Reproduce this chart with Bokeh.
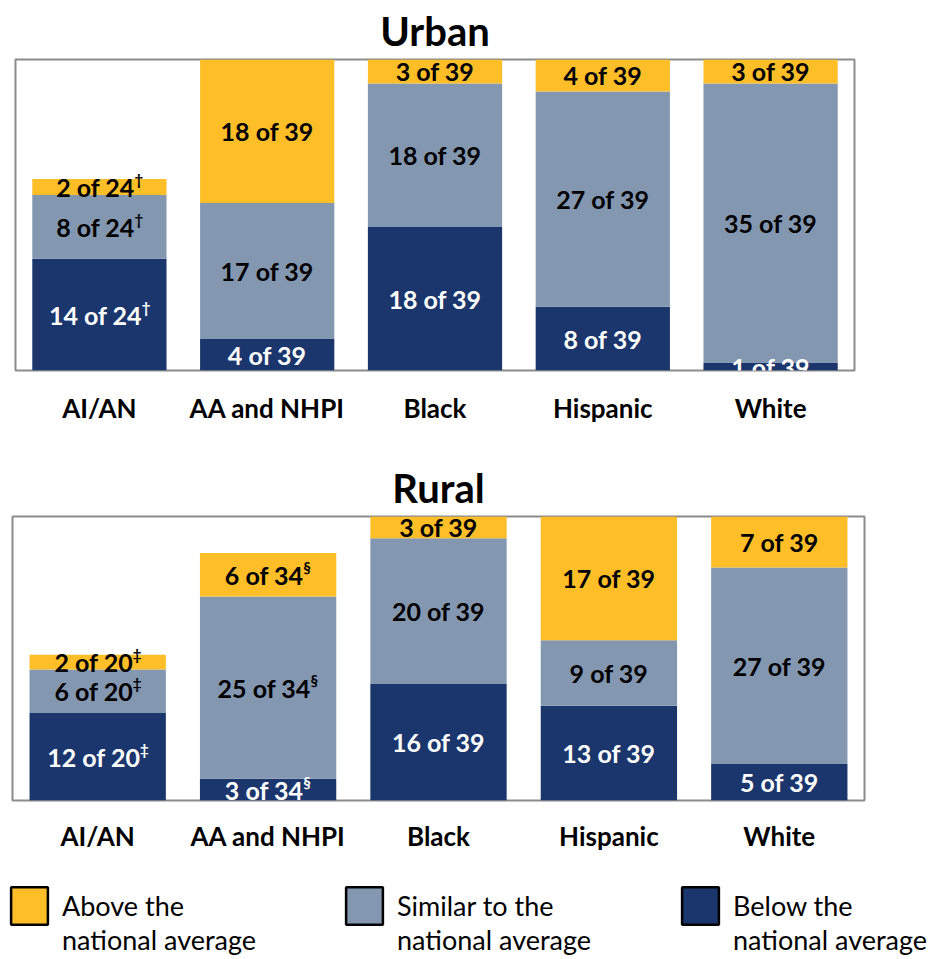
from bokeh.plotting import figure
from bokeh.models import ColumnDataSource, FactorRange, Range1d, Legend, LegendItem
from bokeh.layouts import column, row
from bokeh.embed import file_html
from bokeh.resources import INLINE
from bokeh.core.properties import value

categories = ["AI/AN", "AA and NHPI", "Black", "Hispanic", "White"]
levels = ["below", "similar", "above"]

urban_below = [14, 4, 18, 8, 1]
urban_similar = [8, 17, 18, 27, 35]
urban_above = [2, 18, 3, 4, 3]
urban_total = [24, 39, 39, 39, 39]
urban_marks = ["\u2020", "", "", "", ""]

rural_below = [12, 3, 16, 13, 5]
rural_similar = [6, 25, 20, 9, 27]
rural_above = [2, 6, 3, 17, 7]
rural_total = [20, 34, 39, 39, 39]
rural_marks = ["\u2021", "\u00a7", "", "", ""]

legend_keys = ["above", "similar", "below"]
legend_first = ["Above the", "Similar to the", "Below the"]
legend_second = ["national average", "national average", "national average"]

COLORS = {"above": "#FEBE28", "similar": "#8497B0", "below": "#1B366C"}
TEXT_COLORS = {"above": "#000000", "similar": "#000000", "below": "#FFFFFF"}
FONT = "Lato"
Y_MAX = 39
LABEL_PX = 25
MARK_PX = 15
CHAR_EM = {" ": 0.193, "o": 0.57, "f": 0.35}


def text_width(s, px):
    return sum(CHAR_EM.get(c, 0.58) for c in s) * px


def panel(title, below, similar, above, total, marks, height, borders, label_standoff, title_standoff):
    b_top, b_bottom, b_left, b_right = borders
    src = ColumnDataSource({"cat": categories, "below": below, "similar": similar, "above": above})
    p = figure(x_range=FactorRange(*categories, range_padding=0), y_range=Range1d(0, Y_MAX),
               width=934, height=height, output_backend="svg", toolbar_location=None,
               min_border_top=b_top, min_border_bottom=b_bottom, min_border_left=b_left,
               min_border_right=b_right, title=title)
    p.vbar_stack(levels, x="cat", width=0.8, source=src,
                 color=[COLORS[k] for k in levels], line_color=None)
    base = [0] * len(categories)
    for key, vals in zip(levels, [below, similar, above]):
        mids = [b + v / 2 for b, v in zip(base, vals)]
        texts = [f"{v} of {t}" for v, t in zip(vals, total)]
        mark_w = [text_width("0", MARK_PX) * 0.9 if m else 0 for m in marks]
        main_w = [text_width(t, LABEL_PX) for t in texts]
        lsrc = ColumnDataSource({"cat": categories, "y": mids, "t": texts, "m": marks,
                                 "xo": [-w / 2 for w in mark_w],
                                 "mxo": [mw / 2 - w / 2 + 1 for mw, w in zip(main_w, mark_w)]})
        p.text(x="cat", y="y", text="t", source=lsrc, x_offset="xo", text_align="center",
               text_baseline="middle", text_font=value(FONT), text_font_style="bold",
               text_font_size=f"{LABEL_PX}px", text_color=TEXT_COLORS[key])
        p.text(x="cat", y="y", text="m", source=lsrc, x_offset="mxo", y_offset=-8,
               text_align="left", text_baseline="middle", text_font=value(FONT),
               text_font_style="bold", text_font_size=f"{MARK_PX}px", text_color=TEXT_COLORS[key])
        base = [b + v for b, v in zip(base, vals)]
    p.title.align = "center"
    p.title.text_font = FONT
    p.title.text_font_size = "40px"
    p.title.text_font_style = "bold"
    p.title.text_color = "#000000"
    p.title.standoff = title_standoff
    p.yaxis.visible = False
    p.xgrid.visible = False
    p.ygrid.visible = False
    ax = p.xaxis[0]
    ax.axis_line_color = None
    ax.major_tick_line_color = None
    ax.minor_tick_line_color = None
    ax.major_tick_out = 0
    ax.major_tick_in = 0
    ax.major_label_standoff = label_standoff
    ax.major_label_text_font = FONT
    ax.major_label_text_font_style = "bold"
    ax.major_label_text_font_size = "26px"
    ax.major_label_text_color = "#000000"
    p.outline_line_color = "#8C8C8C"
    p.outline_line_width = 2
    return p


urban = panel("Urban", urban_below, urban_similar, urban_above, urban_total, urban_marks,
              456, (59, 86, 15, 80), 21, 9)
rural = panel("Rural", rural_below, rural_similar, rural_above, rural_total, rural_marks,
              400, (60, 56, 12, 70), 19, 9)

leg = figure(width=934, height=103, output_backend="svg", toolbar_location=None,
             x_range=Range1d(0, 1), y_range=Range1d(0, 1), min_border=0)
leg.xaxis.visible = False
leg.yaxis.visible = False
leg.xgrid.visible = False
leg.ygrid.visible = False
leg.outline_line_color = None
lx = [6, 341, 677]
common = dict(orientation="vertical", glyph_width=46, label_standoff=10,
              label_text_font=FONT, label_text_font_size="27px", label_text_color="#000000",
              border_line_color=None, background_fill_alpha=0, padding=0, margin=0)
for key, l1, l2, x0 in zip(legend_keys, legend_first, legend_second, lx):
    swatch = leg.rect(x=[-5], y=[-5], width=1, height=1, fill_color=COLORS[key],
                      line_color="#000000", line_width=2.5)
    blank = leg.rect(x=[-5], y=[-5], width=1, height=1, fill_alpha=0, line_alpha=0)
    leg.add_layout(Legend(items=[LegendItem(label=l1, renderers=[swatch])],
                          location=(x0, 30), glyph_height=47, **common), "center")
    leg.add_layout(Legend(items=[LegendItem(label=l2, renderers=[blank])],
                          location=(x0, 3), glyph_height=33, **common), "center")

page = column(row(urban), row(rural), leg, spacing=0)
open("out.html", "w").write(file_html(page, INLINE))
